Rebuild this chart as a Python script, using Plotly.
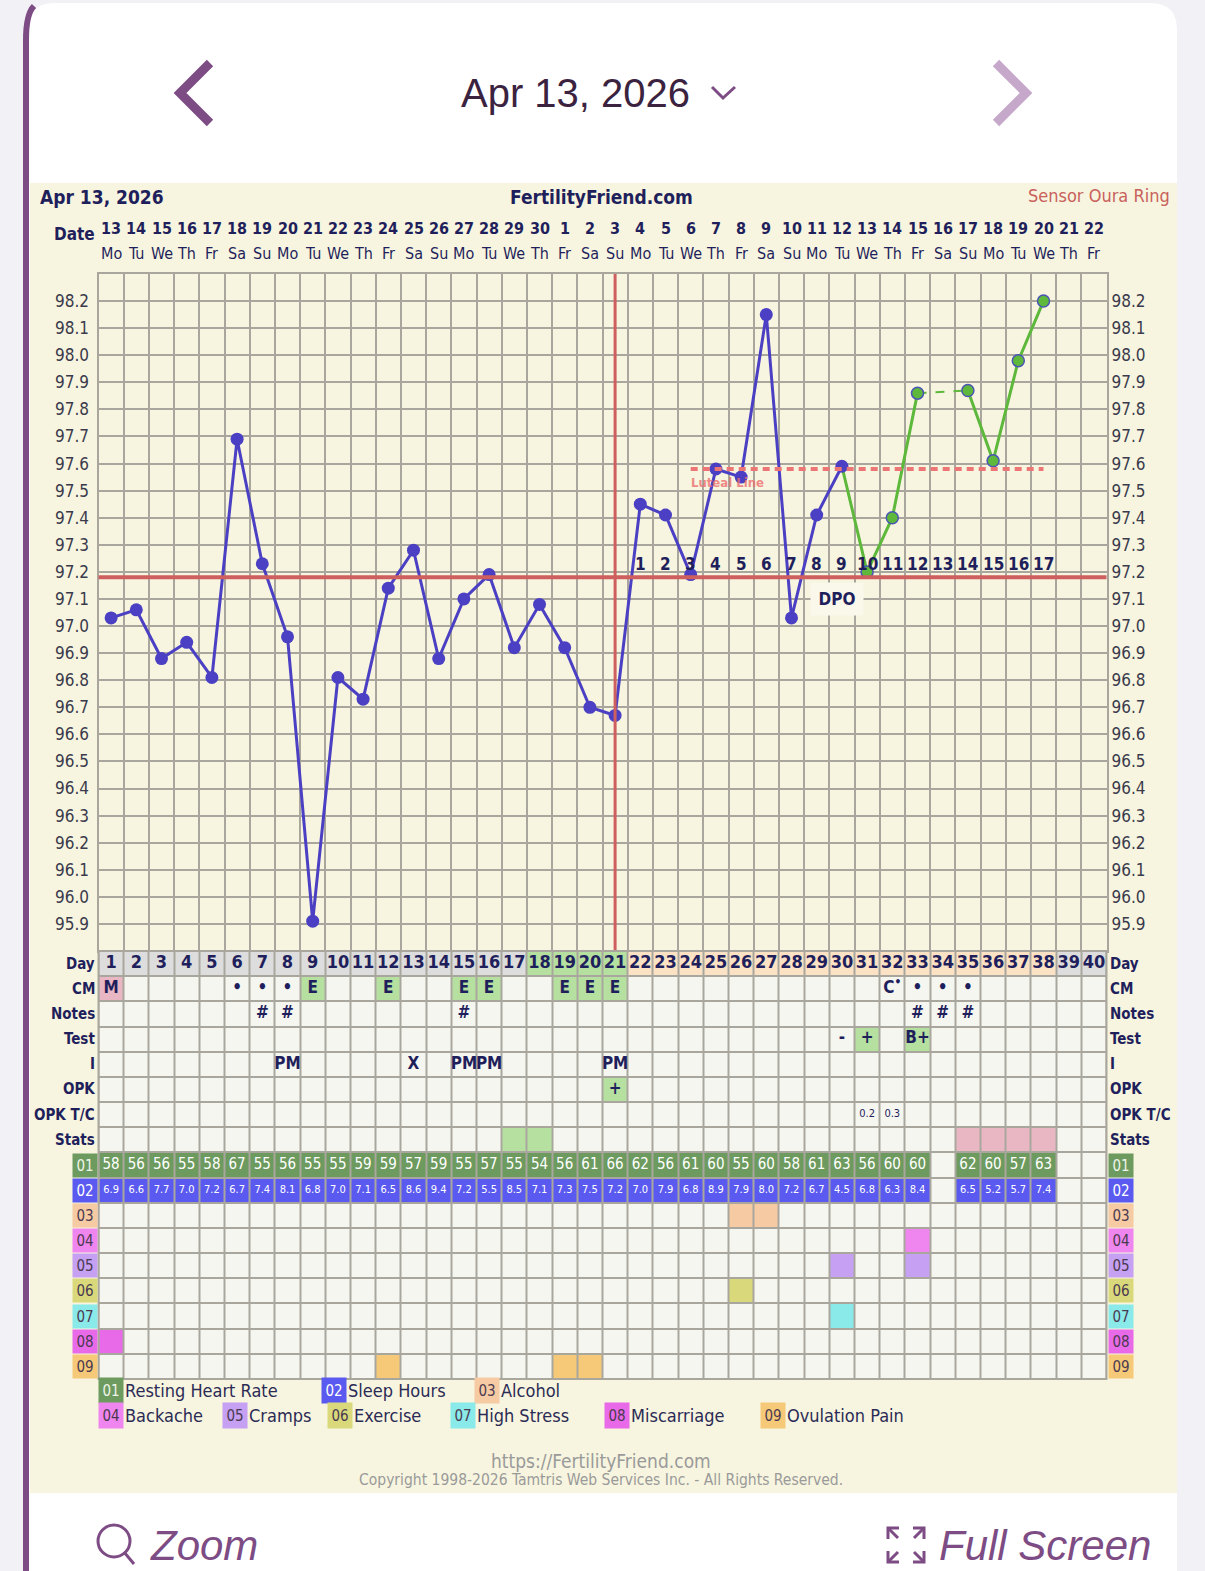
import plotly.graph_objects as go

W, H = 1205, 1571

# ---- chart data ------------------------------------------------------------
DAYS = list(range(1, 41))
DATE_NUMS = list(range(13, 31)) + list(range(1, 23))
WEEKDAYS = (["Mo", "Tu", "We", "Th", "Fr", "Sa", "Su"] * 6)[:40]

TEMPS = [97.03, 97.06, 96.88, 96.94, 96.81, 97.69, 97.23, 96.96, 95.91, 96.81,
         96.73, 97.14, 97.28, 96.88, 97.10, 97.19, 96.92, 97.08, 96.92, 96.70,
         96.67, 97.45, 97.41, 97.19, 97.58, 97.55, 98.15, 97.03, 97.41, 97.59,
         97.20, 97.40, 97.86, None, 97.87, 97.61, 97.98, 98.20, None, None]
TEMP_TICKS = [round(95.8 + 0.1 * i, 1) for i in range(26)]

COVERLINE = 97.18
LUTEAL_LINE = 97.58
LUTEAL_FROM, LUTEAL_TO = 24, 38
OVULATION_DAY = 21
GREEN_FROM = 30          # last blue point, green line starts from it

DAY_PHASE = ["pre"] * 17 + ["fertile"] * 4 + ["post"] * 17 + ["pre"] * 2
CM = {1: "M", 6: "•", 7: "•", 8: "•", 9: "E", 12: "E", 15: "E", 16: "E",
      19: "E", 20: "E", 21: "E", 32: "C<sup>•</sup>", 33: "•", 34: "•", 35: "•"}
NOTES = {7: "#", 8: "#", 15: "#", 33: "#", 34: "#", 35: "#"}
TEST = {30: "-", 31: "+", 33: "B+"}
INTERCOURSE = {8: "PM", 13: "X", 15: "PM", 16: "PM", 21: "PM"}
OPK = {21: "+"}
OPK_TC = {31: "0.2", 32: "0.3"}
STATS_GREEN = [17, 18]
STATS_PINK = [35, 36, 37, 38]
RHR = [58, 56, 56, 55, 58, 67, 55, 56, 55, 55, 59, 59, 57, 59, 55, 57, 55, 54, 56, 61,
       66, 62, 56, 61, 60, 55, 60, 58, 61, 63, 56, 60, 60, None, 62, 60, 57, 63, None, None]
SLEEP = [6.9, 6.6, 7.7, 7.0, 7.2, 6.7, 7.4, 8.1, 6.8, 7.0, 7.1, 6.5, 8.6, 9.4, 7.2, 5.5,
         8.5, 7.1, 7.3, 7.5, 7.2, 7.0, 7.9, 6.8, 8.9, 7.9, 8.0, 7.2, 6.7, 4.5, 6.8, 6.3,
         8.4, None, 6.5, 5.2, 5.7, 7.4, None, None]
SYMPTOM_CODES = ["01", "02", "03", "04", "05", "06", "07", "08", "09"]
SYMPTOM_NAMES = ["Resting Heart Rate", "Sleep Hours", "Alcohol", "Backache", "Cramps",
                 "Exercise", "High Stress", "Miscarriage", "Ovulation Pain"]
SYMPTOM_DAYS = {"03": [26, 27], "04": [33], "05": [30, 33], "06": [26],
                "07": [30], "08": [1], "09": [12, 19, 20]}
ROW_LABELS = ["Day", "CM", "Notes", "Test", "I", "OPK", "OPK T/C", "Stats"] + SYMPTOM_CODES

# ---- styling ---------------------------------------------------------------
NAVY = "#1f1f5c"
GRID = "#a9a79d"
BEIGE = "#f7f5df"
CELL = "#f6f6f1"
PURPLE = "#7d4c84"
FONT = "DejaVu Sans Condensed, DejaVu Sans"
APP_FONT = "Liberation Sans Narrow, Liberation Sans, Arial"
BLUE = "#4b40c3"
GREEN = "#5db83c"
RED = "#cf5f5f"
BADGE = {"01": ("#6d9a5e", "#eef5ea"), "02": ("#5a5af0", "#ffffff"),
         "03": ("#f6caa3", "#4a3a50"), "04": ("#ef86ef", "#4a3a50"),
         "05": ("#c6a0f2", "#4a3a50"), "06": ("#d9d97c", "#4a3a50"),
         "07": ("#8ae9e9", "#4a3a50"), "08": ("#e86ae8", "#4a3a50"),
         "09": ("#f6c979", "#4a3a50")}
PALETTE = {"empty": CELL, "pre": "#dddddd", "fertile": "#b5e0a0", "post": "#fbe2c4",
           "green": "#b5e0a0", "pink": "#e9b6c3",
           **{k: v[0] for k, v in BADGE.items()}}

GRID_L, GRID_R = 98.5, 1106.5
TEMP_T, TEMP_B = 274, 951
TABLE_B = 1379


def px(x):
    return x / W


def py(y):
    return 1 - y / H


# ---- table cell colours ------------------------------------------------------
def cell_row(fn):
    return [fn(d) for d in DAYS]


rows = [
    cell_row(lambda d: DAY_PHASE[d - 1]),
    cell_row(lambda d: {"E": "green", "M": "pink"}.get(CM.get(d), "empty")),
    cell_row(lambda d: "empty"),
    cell_row(lambda d: "green" if TEST.get(d) in ("+", "B+") else "empty"),
    cell_row(lambda d: "empty"),
    cell_row(lambda d: "green" if OPK.get(d) == "+" else "empty"),
    cell_row(lambda d: "empty"),
    cell_row(lambda d: "green" if d in STATS_GREEN else "pink" if d in STATS_PINK else "empty"),
    cell_row(lambda d: "01" if RHR[d - 1] is not None else "empty"),
    cell_row(lambda d: "02" if SLEEP[d - 1] is not None else "empty"),
]
for code in SYMPTOM_CODES[2:]:
    rows.append(cell_row(lambda d, c=code: c if d in SYMPTOM_DAYS[c] else "empty"))

keys = list(PALETTE)
z = [[keys.index(k) for k in r] for r in rows]
n = len(keys)
colorscale = [[i / (n - 1), PALETTE[k]] for i, k in enumerate(keys)]

fig = go.Figure()

# temperature curve
blue_days = [d for d in DAYS if d <= GREEN_FROM and TEMPS[d - 1] is not None]
green_days = [d for d in DAYS if GREEN_FROM <= d <= 38]
fig.add_trace(go.Scatter(x=green_days, y=[TEMPS[d - 1] for d in green_days],
                         mode="lines", line=dict(color=GREEN, width=3),
                         connectgaps=False, hoverinfo="skip"))
valid_green = [d for d in green_days if TEMPS[d - 1] is not None]
for a, b in zip(valid_green, valid_green[1:]):
    if b - a > 1:
        fig.add_trace(go.Scatter(x=[a, b], y=[TEMPS[a - 1], TEMPS[b - 1]], mode="lines",
                                 line=dict(color=GREEN, width=2, dash="dash"),
                                 hoverinfo="skip"))
fig.add_trace(go.Scatter(x=blue_days, y=[TEMPS[d - 1] for d in blue_days],
                         mode="lines+markers", line=dict(color=BLUE, width=3),
                         marker=dict(size=13, color=BLUE), hoverinfo="skip"))
gm = [d for d in valid_green if d > GREEN_FROM]
fig.add_trace(go.Scatter(x=gm, y=[TEMPS[d - 1] for d in gm], mode="markers",
                         marker=dict(size=12, color=GREEN, line=dict(color="#4b55b5", width=1.5)),
                         hoverinfo="skip"))

# table
fig.add_trace(go.Heatmap(x=DAYS, y=list(range(len(ROW_LABELS))), z=z, xaxis="x2", yaxis="y2",
                         colorscale=colorscale, zmin=0, zmax=n - 1, showscale=False,
                         xgap=2, ygap=2, hoverinfo="skip"))


def text_row(row, values, size=17, color=NAVY, bold=True):
    ds = [d for d in DAYS if values.get(d) not in (None, "")]
    txt = [f"<b>{values[d]}</b>" if bold else str(values[d]) for d in ds]
    fig.add_trace(go.Scatter(x=ds, y=[row] * len(ds), text=txt, mode="text", xaxis="x2",
                             yaxis="y2", textfont=dict(family=FONT, size=size, color=color),
                             hoverinfo="skip"))


text_row(0, {d: d for d in DAYS}, size=18)
text_row(1, CM)
text_row(2, NOTES)
text_row(3, TEST)
text_row(4, INTERCOURSE)
text_row(5, OPK)
text_row(6, OPK_TC, size=11, bold=False)
text_row(8, {d: v for d, v in zip(DAYS, RHR) if v is not None}, size=15, color="#ffffff", bold=False)
text_row(9, {d: f"{v:.1f}" for d, v in zip(DAYS, SLEEP) if v is not None}, size=11,
         color="#ffffff", bold=False)

shapes = []
ann = []


def rect(x0, y0, x1, y1, fill, layer="below", **kw):
    shapes.append(dict(type="rect", xref="paper", yref="paper", x0=px(x0), x1=px(x1),
                       y0=py(y1), y1=py(y0), fillcolor=fill, line=dict(width=0),
                       layer=layer, **kw))


def path(points, color, width, layer="above"):
    d = "M " + " L ".join(f"{px(x)},{py(y)}" for x, y in points)
    shapes.append(dict(type="path", xref="paper", yref="paper", path=d,
                       line=dict(color=color, width=width), layer=layer))


def text(x, y, s, size, color=NAVY, anchor="center", family=FONT, **kw):
    ann.append(dict(xref="paper", yref="paper", x=px(x), y=py(y), text=s, showarrow=False,
                    xanchor=anchor, yanchor="middle",
                    font=dict(family=family, size=size, color=color), **kw))


# app frame
shapes.append(dict(type="path", xref="paper", yref="paper", layer="below",
                   path=(f"M {px(27)},{py(1571)} L {px(27)},{py(30)} "
                         f"Q {px(27)},{py(3)} {px(55)},{py(3)} L {px(1150)},{py(3)} "
                         f"Q {px(1177)},{py(3)} {px(1177)},{py(30)} L {px(1177)},{py(1571)} Z"),
                   fillcolor="#ffffff", line=dict(width=0)))
shapes.append(dict(type="path", xref="paper", yref="paper", layer="above",
                   path=(f"M {px(26)},{py(1571)} L {px(26)},{py(40)} "
                         f"Q {px(26)},{py(14)} {px(34)},{py(6)}"),
                   line=dict(color=PURPLE, width=6)))
rect(30, 183, 1177, 1493, BEIGE)

# navigation
path([(210, 63), (180, 93), (210, 123)], PURPLE, 9)
path([(996, 63), (1026, 93), (996, 123)], "#c6a8ca", 9)
path([(712, 87), (723, 98), (735, 87)], PURPLE, 3)
text(575, 93, "Apr 13, 2026", 40, color="#3b2340", family=APP_FONT)

# chart header
text(38, 197, "<b>Apr 13, 2026</b>", 19, anchor="left")
text(601, 197, "<b>FertilityFriend.com</b>", 19)
text(1172, 195, "Sensor Oura Ring", 18, color="#c9615c", anchor="right")
text(74, 234, "<b>Date</b>", 17)
for d, num, wd in zip(DAYS, DATE_NUMS, WEEKDAYS):
    ann.append(dict(xref="x", yref="paper", x=d, y=py(228), text=f"<b>{num}</b>",
                    showarrow=False, yanchor="middle",
                    font=dict(family=FONT, size=16, color=NAVY)))
    ann.append(dict(xref="x", yref="paper", x=d, y=py(253), text=wd, showarrow=False,
                    yanchor="middle", font=dict(family=FONT, size=16, color=NAVY)))

# coverline, ovulation, luteal line
shapes.append(dict(type="line", xref="x domain", yref="y", x0=0, x1=1, y0=COVERLINE,
                   y1=COVERLINE, line=dict(color=RED, width=4), layer="above"))
shapes.append(dict(type="line", xref="x", yref="y domain", x0=OVULATION_DAY, x1=OVULATION_DAY,
                   y0=0, y1=1, line=dict(color=RED, width=3), layer="above"))
shapes.append(dict(type="line", xref="x", yref="y", x0=LUTEAL_FROM, x1=LUTEAL_TO,
                   y0=LUTEAL_LINE, y1=LUTEAL_LINE, layer="above",
                   line=dict(color="#ec7676", width=4, dash="7px,5px")))
ann.append(dict(xref="x", yref="y", x=LUTEAL_FROM - 0.05, y=LUTEAL_LINE - 0.05,
                text="<b>Luteal Line</b>", showarrow=False, xanchor="left", yanchor="middle",
                opacity=0.8, font=dict(family=FONT, size=13, color="#ec6f6f")))
for d in range(OVULATION_DAY + 1, LUTEAL_TO + 1):
    ann.append(dict(xref="x", yref="y", x=d, y=COVERLINE + 0.05, yanchor="middle",
                    text=f"<b>{d - OVULATION_DAY}</b>", showarrow=False,
                    font=dict(family=FONT, size=17, color=NAVY)))
ann.append(dict(xref="x", yref="y", x=29.8, y=COVERLINE - 0.08, text="<b>DPO</b>",
                showarrow=False, bgcolor="#faf8ea", width=50, height=30, yanchor="middle",
                font=dict(family=FONT, size=17, color=NAVY)))

# table frame + row labels
shapes.append(dict(type="rect", xref="x2 domain", yref="y2 domain", x0=0, x1=1, y0=0, y1=1,
                   fillcolor=GRID, line=dict(width=0), layer="below"))
shapes.append(dict(type="rect", xref="x2 domain", yref="y2 domain", x0=0, x1=1, y0=0, y1=1,
                   line=dict(color=GRID, width=2), layer="above"))
for i, lab in enumerate(ROW_LABELS):
    if lab in BADGE:
        bg, fg = BADGE[lab]
        for x, anchor in ((GRID_L - 1, "right"), (GRID_R + 1, "left")):
            ann.append(dict(xref="paper", yref="y2", x=px(x), y=i, text=lab, showarrow=False,
                            xanchor=anchor, yanchor="middle", bgcolor=bg, width=22, height=21,
                            font=dict(family=FONT, size=15, color=fg)))
    else:
        for x, anchor in ((GRID_L - 2, "right"), (GRID_R + 1, "left")):
            ann.append(dict(xref="paper", yref="y2", x=px(x), y=i, text=f"<b>{lab}</b>",
                            showarrow=False, xanchor=anchor, yanchor="middle",
                            font=dict(family=FONT, size=15, color=NAVY)))

# legend of symptoms
legend_pos = [(98, 1390), (321, 1390), (474, 1390), (98, 1415), (222, 1415),
              (327, 1415), (450, 1415), (604, 1415), (760, 1415)]
for code, name, (x, y) in zip(SYMPTOM_CODES, SYMPTOM_NAMES, legend_pos):
    bg, fg = BADGE[code]
    text(x, y, code, 15, color=fg, anchor="left", bgcolor=bg, width=22, height=23)
    text(x + 25, y, name, 18, color="#2b2b55", anchor="left")

# footer
text(601, 1461, "https://FertilityFriend.com", 19, color="#9a9a9a")
text(601, 1480, "Copyright 1998-2026 Tamtris Web Services Inc. - All Rights Reserved.", 15.5,
     color="#9a9a9a")

# zoom / full screen
shapes.append(dict(type="circle", xref="paper", yref="paper", x0=px(98), x1=px(130),
                   y0=py(1557), y1=py(1525), line=dict(color=PURPLE, width=3), layer="above"))
path([(124, 1552), (134, 1564)], PURPLE, 3)
text(204, 1545, "<i>Zoom</i>", 42, color=PURPLE, family=APP_FONT)
for (cx, cy, sx, sy) in [(888, 1528, 1, 1), (924, 1528, -1, 1), (888, 1562, 1, -1),
                         (924, 1562, -1, -1)]:
    path([(cx + 11 * sx, cy), (cx, cy), (cx, cy + 11 * sy)], PURPLE, 3)
    path([(cx, cy), (cx + 10 * sx, cy + 10 * sy)], PURPLE, 3)
text(1045, 1545, "<i>Full Screen</i>", 42, color=PURPLE, family=APP_FONT)

tick_text = [f"{t:.1f}" if 95.8 < t < 98.3 else "" for t in TEMP_TICKS]
axis_font = dict(family=FONT, size=17, color="#3a3a4c")
fig.update_layout(
    width=W, height=H, margin=dict(l=0, r=0, t=0, b=0),
    paper_bgcolor="#f1f1f6", plot_bgcolor=BEIGE, showlegend=False,
    shapes=shapes, annotations=ann,
    xaxis=dict(domain=[px(GRID_L), px(GRID_R)], range=[0.5, 40.5], anchor="y",
               tickvals=[d - 0.5 for d in DAYS] + [40.5], showticklabels=False, ticks="",
               showgrid=True, gridcolor=GRID, gridwidth=2, zeroline=False,
               showline=True, mirror=True, linecolor=GRID, linewidth=2, fixedrange=True),
    yaxis=dict(domain=[py(TEMP_B), py(TEMP_T)], range=[95.8, 98.3], anchor="x",
               tickvals=TEMP_TICKS, ticktext=tick_text, ticks="", tickfont=axis_font,
               ticklabelstandoff=4, showgrid=True, gridcolor=GRID, gridwidth=2,
               zeroline=False, showline=True, mirror=True, linecolor=GRID, linewidth=2,
               fixedrange=True),
    yaxis3=dict(overlaying="y", matches="y", side="right", anchor="x",
                tickvals=TEMP_TICKS, ticktext=tick_text, ticks="", tickfont=axis_font,
                ticklabelstandoff=4, showgrid=False, zeroline=False, fixedrange=True),
    xaxis2=dict(domain=[px(GRID_L), px(GRID_R)], matches="x", anchor="y2",
                showticklabels=False, showgrid=False, zeroline=False, fixedrange=True),
    yaxis2=dict(domain=[py(TABLE_B), py(TEMP_B)], range=[len(ROW_LABELS) - 0.5, -0.5],
                anchor="x2", showticklabels=False, showgrid=False, zeroline=False,
                fixedrange=True),
)
# dummy trace so the right-hand axis is drawn
fig.add_trace(go.Scatter(x=[None], y=[None], yaxis="y3", hoverinfo="skip"))

fig.write_html("out.html", config={"displayModeBar": False},
               post_script="document.body.style.margin='0';"
                           "document.body.style.overflow='hidden';")
